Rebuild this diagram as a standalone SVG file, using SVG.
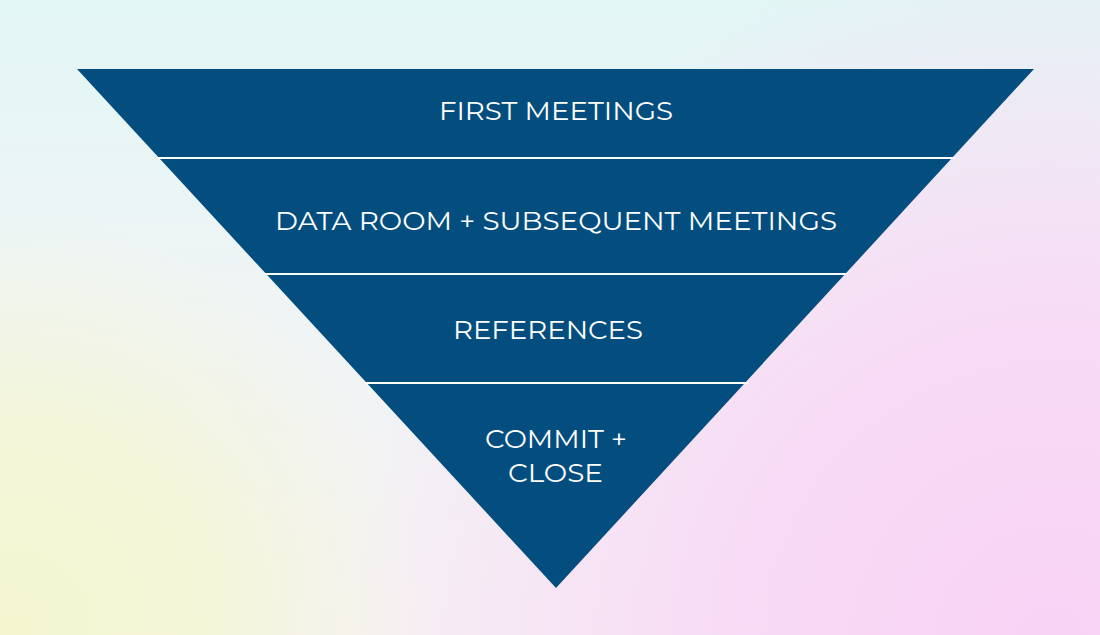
<svg xmlns="http://www.w3.org/2000/svg" width="1100" height="635" viewBox="0 0 1100 635">
  <defs>
    <linearGradient id="bg" x1="0" y1="0" x2="0" y2="1">
      <stop offset="0" stop-color="#e2f6f5"/>
      <stop offset="0.45" stop-color="#eff4f5"/>
      <stop offset="1" stop-color="#f6f1f4"/>
    </linearGradient>
    <radialGradient id="pink" cx="1050" cy="640" r="700" gradientUnits="userSpaceOnUse">
      <stop offset="0" stop-color="#f9d2f5"/>
      <stop offset="0.45" stop-color="#f8d8f5" stop-opacity="0.9"/>
      <stop offset="1" stop-color="#f8d8f5" stop-opacity="0"/>
    </radialGradient>
    <radialGradient id="yellow" cx="10" cy="630" r="420" gradientUnits="userSpaceOnUse">
      <stop offset="0" stop-color="#f3f6cf"/>
      <stop offset="0.5" stop-color="#f3f6d4" stop-opacity="0.85"/>
      <stop offset="1" stop-color="#f3f6dc" stop-opacity="0"/>
    </radialGradient>
    <style>
      .band { fill: #034e7e; }
      .sep { stroke: #ffffff; stroke-width: 2; }
      .lbl { font-family: Montserrat, "Open Sans", "Noto Sans", sans-serif; font-size: 26px; font-weight: 400; fill: #ffffff; }
    </style>
  </defs>
  <rect width="1100" height="635" fill="url(#bg)"/>
  <rect width="1100" height="635" fill="url(#pink)"/>
  <rect width="1100" height="635" fill="url(#yellow)"/>

  <g id="funnel">
    <polygon class="band" points="77,69 1034,69 556,588"/>
  </g>

  <g id="connectors">
    <line class="sep" x1="157" y1="158" x2="955" y2="158"/>
    <line class="sep" x1="264" y1="274" x2="848" y2="274"/>
    <line class="sep" x1="364" y1="383" x2="748" y2="383"/>
  </g>

  <g id="node-first-meetings">
    <text class="lbl" x="439" y="120" textLength="234" lengthAdjust="spacingAndGlyphs">FIRST MEETINGS</text>
  </g>
  <g id="node-data-room">
    <text class="lbl" x="275" y="230" textLength="562" lengthAdjust="spacingAndGlyphs">DATA ROOM + SUBSEQUENT MEETINGS</text>
  </g>
  <g id="node-references">
    <text class="lbl" x="453" y="339" textLength="190" lengthAdjust="spacingAndGlyphs">REFERENCES</text>
  </g>
  <g id="node-commit-close">
    <text class="lbl" x="485" y="448" textLength="142" lengthAdjust="spacingAndGlyphs">COMMIT +</text>
    <text class="lbl" x="508" y="482" textLength="95" lengthAdjust="spacingAndGlyphs">CLOSE</text>
  </g>
</svg>
